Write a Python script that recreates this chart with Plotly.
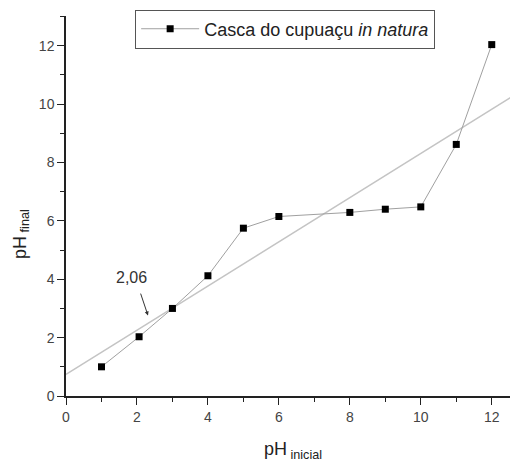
import plotly.graph_objects as go

ph_inicial = [1, 2.06, 3, 4, 5, 6, 8, 9, 10, 11, 12]
ph_final = [1.0, 2.03, 3.0, 4.12, 5.75, 6.15, 6.29, 6.40, 6.48, 8.62, 12.04]

fit_x = [0, 12.75]
fit_y = [0.74, 10.39]

x_ticks = [0, 2, 4, 6, 8, 10, 12]
y_ticks = [0, 2, 4, 6, 8, 10, 12]

FONT = "Liberation Sans, Arial, sans-serif"

fig = go.Figure()
fig.add_trace(go.Scatter(
    x=fit_x, y=fit_y, mode="lines",
    line=dict(color="#c4c4c4", width=1.5),
    showlegend=False, hoverinfo="skip"))
fig.add_trace(go.Scatter(
    x=ph_inicial, y=ph_final, mode="lines+markers",
    name="Casca do cupuaçu <i>in natura</i>",
    line=dict(color="#a0a0a0", width=1),
    marker=dict(symbol="square", size=7, color="black")))

fig.add_annotation(
    x=2.31, y=2.76, ax=2.09, ay=3.56, axref="x", ayref="y",
    xref="x", yref="y", text="", showarrow=True,
    arrowhead=2, arrowsize=0.8, arrowwidth=1, arrowcolor="#333")
fig.add_annotation(
    x=1.85, y=4.06, xref="x", yref="y", text="2,06", showarrow=False,
    font=dict(size=16, color="#333", family=FONT))

# axis titles
fig.add_annotation(
    x=0.503, y=-0.143, xref="paper", yref="paper", text="pH<sub> inicial</sub>",
    showarrow=False, xanchor="center", yanchor="middle",
    font=dict(size=18, color="#222", family=FONT))
fig.add_annotation(
    x=-0.10, y=0.426, xref="paper", yref="paper", text="pH<sub> final</sub>",
    showarrow=False, textangle=-90, xanchor="center", yanchor="middle",
    font=dict(size=18, color="#222", family=FONT))

axis_common = dict(
    showline=True, linecolor="#222", linewidth=1.5,
    ticks="outside", ticklen=7, tickwidth=1.3, tickcolor="#222",
    showgrid=False, zeroline=False,
    tickfont=dict(size=14, color="#444", family=FONT),
    minor=dict(ticks="outside", ticklen=4, tickwidth=1.2, tickcolor="#222", dtick=1, showgrid=False),
)

fig.update_layout(
    width=510, height=458,
    margin=dict(l=58, r=0, t=8, b=70),
    paper_bgcolor="white", plot_bgcolor="white",
    font=dict(family=FONT, color="#222"),
    xaxis=dict(range=[0, 12.74], tickvals=x_ticks, **axis_common),
    yaxis=dict(range=[0, 13.02], tickvals=y_ticks, **axis_common),
    legend=dict(x=0.153, y=1.017, xanchor="left", yanchor="top",
                bordercolor="#555", borderwidth=1, bgcolor="white",
                itemwidth=58,
                font=dict(size=18, color="#222", family=FONT)),
)

fig.write_html("out.html")
